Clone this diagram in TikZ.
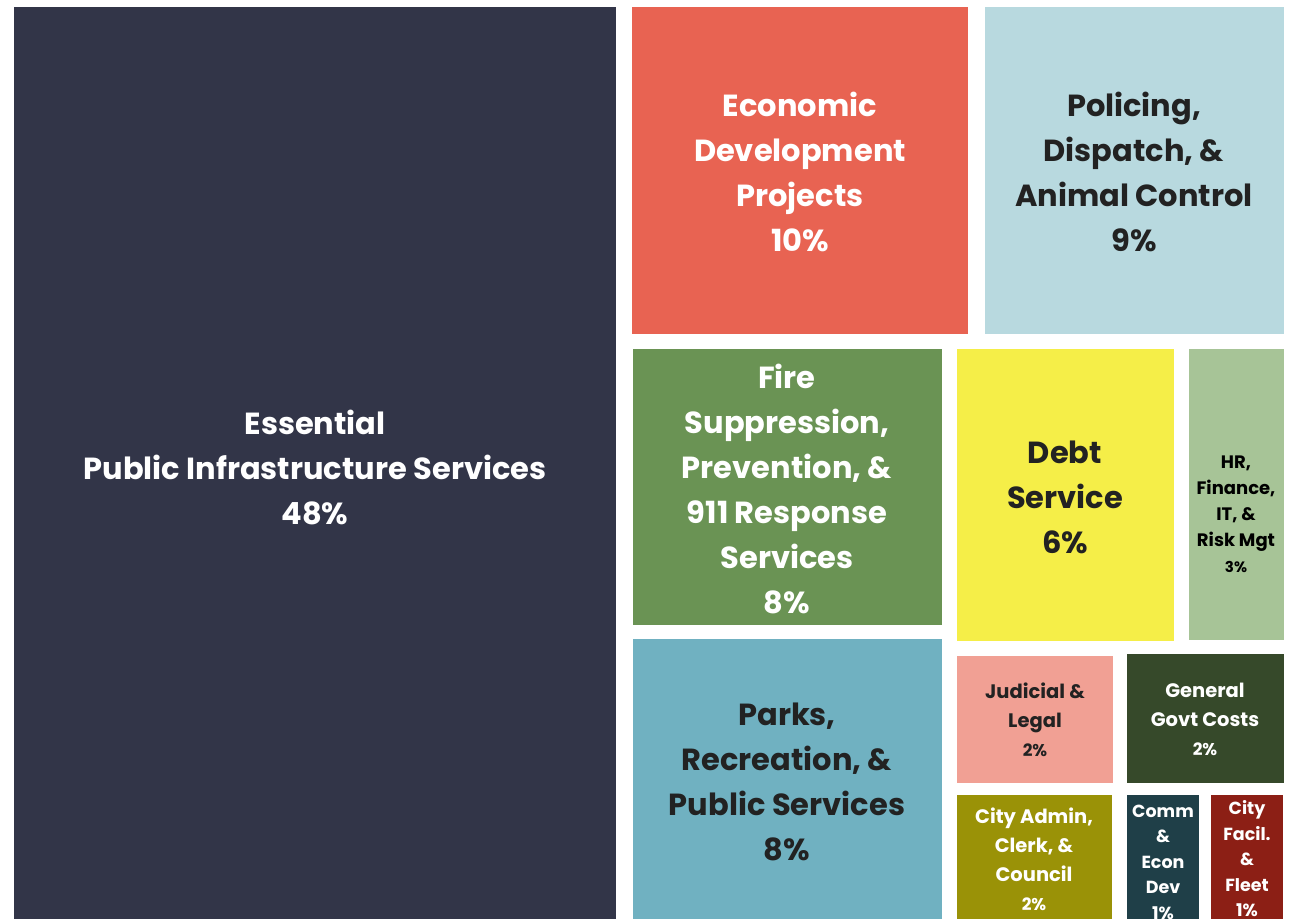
\documentclass[tikz,border=0pt]{standalone}
\usepackage{fontspec}
\setmainfont{Poppins}
\usepackage{tikz}

\definecolor{infra}{HTML}{323548}
\definecolor{econ}{HTML}{E86352}
\definecolor{police}{HTML}{B8D9DF}
\definecolor{fire}{HTML}{6A9354}
\definecolor{debt}{HTML}{F5EE48}
\definecolor{hrfin}{HTML}{A7C497}
\definecolor{parks}{HTML}{70B1C1}
\definecolor{judicial}{HTML}{F1A094}
\definecolor{govt}{HTML}{36492A}
\definecolor{admin}{HTML}{9A9207}
\definecolor{commdev}{HTML}{1F3F48}
\definecolor{facil}{HTML}{8C1F15}
\definecolor{ink}{HTML}{222222}

\tikzset{
  big/.style={align=center, inner sep=0pt, font=\fontsize{30.5}{45}\selectfont\bfseries},
  small/.style={align=center, inner sep=0pt, font=\fontsize{19.5}{29}\selectfont\bfseries},
  tiny/.style={align=center, inner sep=0pt, font=\fontsize{17.5}{25.5}\selectfont\bfseries}
}

\begin{document}
\begin{tikzpicture}[x=1pt, y=-1pt]
			%%%%% START %%%%%
			
			\useasboundingbox[fill=white] (0, 0) rectangle (1289, 919);
			
			\fill[infra] (14, 7) rectangle (616, 919);
			\node[big, text=white] (infrastructure) at (315, 467) {Essential\\Public Infrastructure Services\\48\%};
			
			\fill[econ] (632, 7) rectangle (968, 334);
			\node[big, text=white] (econdev) at (800, 172) {Economic\\Development\\Projects\\10\%};
			
			\fill[police] (985, 7) rectangle (1284, 334);
			\node[big, text=ink] (policing) at (1134, 172) {Policing,\\Dispatch, \&\\Animal Control\\9\%};
			
			\fill[fire] (633, 349) rectangle (942, 625);
			\node[big, text=white] (fire) at (787, 489) {Fire\\Suppression,\\Prevention, \&\\911 Response\\Services\\8\%};
			
			\fill[parks] (633, 639) rectangle (942, 919);
			\node[big, text=ink] (parks) at (787, 782) {Parks,\\Recreation, \&\\Public Services\\8\%};
			
			\fill[debt] (957, 349) rectangle (1174, 641);
			\node[big, text=ink] (debt) at (1065, 497) {Debt\\Service\\6\%};
			
			\fill[hrfin] (1189, 349) rectangle (1284, 640);
			\node[tiny, text=black, font=\fontsize{18}{26}\selectfont\bfseries] (hrfin) at (1236, 514) {HR,\\Finance,\\IT, \&\\Risk Mgt\\{\fontsize{15}{26}\selectfont 3\%}};
			
			\fill[judicial] (957, 656) rectangle (1113, 783);
			\node[small, text=ink] (judicial) at (1035, 720) {Judicial \&\\Legal\\{\fontsize{17}{29}\selectfont 2\%}};
			
			\fill[govt] (1127, 654) rectangle (1284, 783);
			\node[small, text=white] (govt) at (1205, 719) {General\\Govt Costs\\{\fontsize{17}{29}\selectfont 2\%}};
			
			\fill[admin] (957, 795) rectangle (1112, 919);
			\node[small, text=white] (admin) at (1034, 859) {City Admin,\\Clerk, \&\\Council\\{\fontsize{17}{29}\selectfont 2\%}};
			
			\fill[commdev] (1127, 795) rectangle (1199, 919);
			\node[tiny, text=white] (commdev) at (1163, 862) {Comm\\\&\\Econ\\Dev\\1\%};
			
			\fill[facil] (1211, 795) rectangle (1283, 919);
			\node[tiny, text=white] (facil) at (1247, 859) {City\\Facil.\\\&\\Fleet\\1\%};
			
			%%%%% END %%%%%
\end{tikzpicture}
\end{document}
